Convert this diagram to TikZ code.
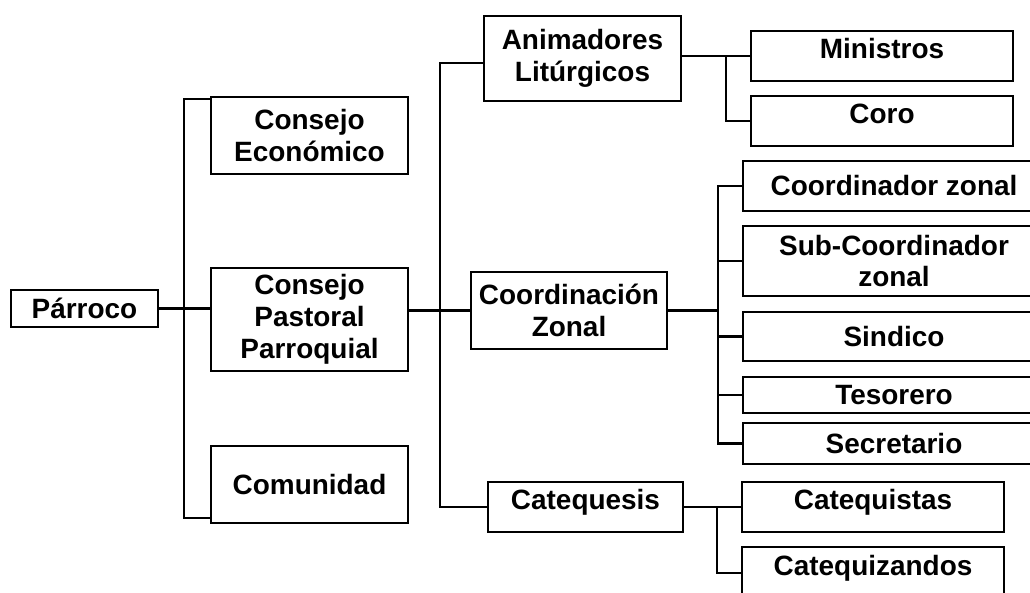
\documentclass[tikz,border=0pt]{standalone}
\usepackage{fontspec}
\setmainfont{Liberation Sans}
\usetikzlibrary{positioning, calc}

\begin{document}
\begin{tikzpicture}[
		x=0.02cm, y=-0.02cm,
		box/.style = {draw, rectangle, line width=1.5pt, align=center, inner sep=0pt, font=\bfseries\fontsize{15.9}{18.2}\selectfont},
		% Texto algo por encima del centro
		raised/.style = {text height=0.4cm, text depth=0.3cm},
		link/.style = {line width=1.2pt}
		]
		\useasboundingbox (0,0) rectangle (1030,592);
		
		% --- NIVEL 0: PÁRROCO ---
		\node [box, minimum width=2.94cm, minimum height=0.74cm] (parroco) at (84.5, 308.5) {Párroco};
		
		% --- NIVEL 1: CONSEJOS ---
		\node [box, minimum width=3.94cm, minimum height=1.54cm] (economico) at (309.5, 135.5) {Consejo\\Económico};
		\node [box, minimum width=3.94cm, minimum height=2.06cm] (pastoral)  at (309.5, 319.5) {Consejo\\Pastoral\\Parroquial};
		\node [box, minimum width=3.94cm, minimum height=1.54cm] (comunidad) at (309.5, 484.5) {Comunidad};
		
		% --- NIVEL 2: ÁREAS ---
		\node [box, minimum width=3.94cm, minimum height=1.70cm] (animadores)   at (582.5, 58.5) {Animadores\\Litúrgicos};
		\node [box, minimum width=3.92cm, minimum height=1.54cm] (coordinacion) at (569, 310.5) {Coordinación\\Zonal};
		\node [box, raised, minimum width=3.90cm, minimum height=1.00cm] (catequesis) at (585.5, 507) {Catequesis};
		
		% --- NIVEL 3: MIEMBROS ---
		\node [box, raised, minimum width=5.24cm, minimum height=1.00cm] (ministros) at (882, 56) {Ministros};
		\node [box, raised, minimum width=5.24cm, minimum height=1.00cm] (coro)      at (882, 121) {Coro};
		
		\node [box, minimum width=6.04cm, minimum height=1.00cm] (coordinador) at (894, 186) {Coordinador zonal};
		\node [box, minimum width=6.04cm, minimum height=1.40cm] (subcoord)    at (894, 261) {Sub-Coordinador\\zonal};
		\node [box, minimum width=6.04cm, minimum height=0.98cm] (sindico)     at (894, 336.5) {Sindico};
		\node [box, minimum width=6.04cm, minimum height=0.72cm] (tesorero)    at (894, 395) {Tesorero};
		\node [box, minimum width=6.04cm, minimum height=0.82cm] (secretario)  at (894, 443.5) {Secretario};
		
		\node [box, raised, minimum width=5.24cm, minimum height=1.00cm] (catequistas)   at (873, 507) {Catequistas};
		\node [box, raised, minimum width=5.24cm, minimum height=1.04cm] (catequizandos) at (873, 573) {Catequizandos};
		
		% --- CONEXIONES ---
		% Párroco a los consejos
		\draw [link] (parroco.east) -- (parroco.east -| pastoral.west);
		\draw [link] ($(economico.north west)+(0,3)$) -| ($(comunidad.south west)+(-26,-6)$) -- ($(comunidad.south west)+(0,-6)$);
		
		% Consejo pastoral a las áreas
		\draw [link] (coordinacion.west -| pastoral.east) -- (coordinacion.west);
		\draw [link] ($(animadores.west)+(0,4.5)$) -- ++(-43,0) |- (catequesis.west);
		
		% Animadores
		\draw [link] (ministros.west -| animadores.east) -- (ministros.west);
		\draw [link] ($(ministros.west)+(-24,0)$) |- (coro.west);
		
		% Coordinación zonal
		\draw [link] (coordinacion.east) -- ++(50,0) coordinate (b4);
		\draw [link] (coordinador.west) -| (b4 |- secretario.west) -- (secretario.west);
		\foreach \n in {subcoord, sindico, tesorero}
			\draw [link] (b4 |- \n.west) -- (\n.west);
		
		% Catequesis
		\draw [link] (catequesis.east) -- (catequistas.west);
		\draw [link] ($(catequistas.west)+(-24,0)$) |- (catequizandos.west);
		
	\end{tikzpicture}
\end{document}
